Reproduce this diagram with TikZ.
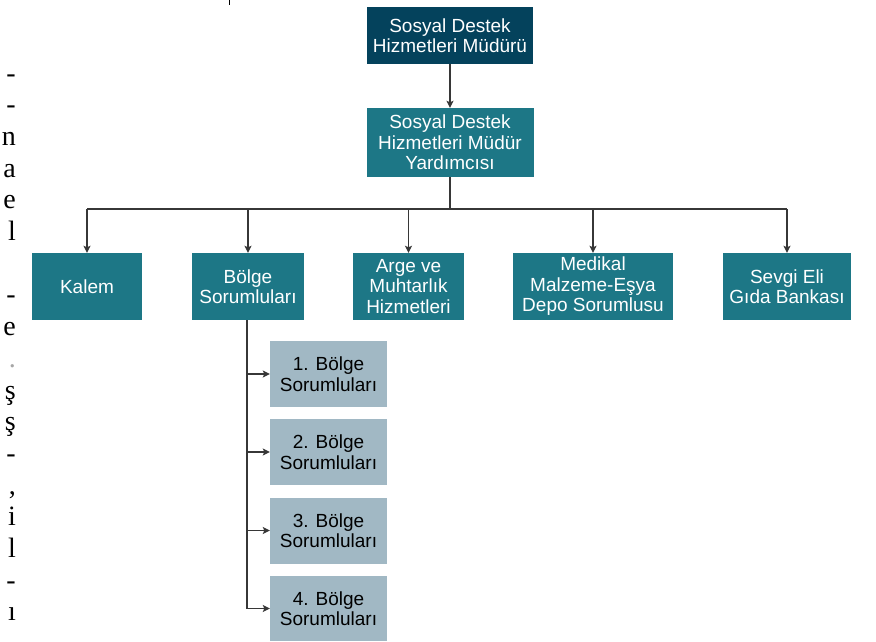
\documentclass[tikz,border=0pt]{standalone}
\usepackage{fontspec}
\setmainfont{Liberation Sans}
\newfontfamily\margfont{Liberation Serif}
\usetikzlibrary{arrows.meta}
\definecolor{navyc}{RGB}{4,66,92}
\definecolor{tealc}{RGB}{29,119,134}
\definecolor{subc}{RGB}{161,184,196}
\definecolor{linec}{RGB}{55,55,55}
\begin{document}
\begin{tikzpicture}[x=1pt,y=-1pt,
  box/.style={rectangle, inner sep=0pt, align=center,
    font=\fontsize{19}{20.5}\selectfont, text=white},
  topbox/.style={box, fill=navyc},
  mainbox/.style={box, fill=tealc},
  subbox/.style={box, fill=subc, text=black},
  wire/.style={draw=linec, line width=1.2pt},
  conn/.style={wire, -{Stealth[length=7pt,width=7pt,inset=1.5pt]}},
  marg/.style={inner sep=0pt, anchor=base east, text=black,
    font=\margfont\fontsize{28}{30}\selectfont}
]
\useasboundingbox (0,0) rectangle (876,641);

% stray marks of the cropped page
\fill[black] (228.5,0) rectangle (230.2,5);
\node[marg] (m0) at (16,82) {-};
\node[marg] (m1) at (16,113.7) {-};
\node[marg] (m2) at (16,145.4) {n};
\node[marg] (m3) at (16,177.1) {a};
\node[marg] (m4) at (16,208.8) {e};
\node[marg] (m5) at (16,240.5) {l};
\node[marg] (m7) at (16,303.9) {-};
\node[marg] (m8) at (16,335.6) {e};
\node[marg, text=black!35] (m9) at (16,367.3) {.};
\node[marg] (m10) at (16,399) {ş};
\node[marg] (m11) at (16,430.7) {ş};
\node[marg] (m12) at (16,462.4) {-};
\node[marg] (m13) at (16,494.1) {,};
\node[marg] (m14) at (16,525.8) {i};
\node[marg] (m15) at (16,557.5) {l};
\node[marg] (m16) at (16,589.2) {-};
\node[marg] (m17) at (16,620.9) {ı};

% boxes
\node[topbox, minimum width=166pt, minimum height=57pt] (top) at (450,35.5)
  {Sosyal Destek\\Hizmetleri Müdürü};
\node[mainbox, minimum width=167pt, minimum height=69pt] (yard) at (450,142.5)
  {Sosyal Destek\\Hizmetleri Müdür\\Yardımcısı};

\node[mainbox, minimum width=110pt, minimum height=67pt] (kalem) at (87,286.5) {Kalem};
\node[mainbox, minimum width=112pt, minimum height=67pt] (bolge) at (248,286.5) {Bölge\\Sorumluları};
\node[mainbox, minimum width=111pt, minimum height=67pt] (arge) at (408.5,286.5) {Arge ve\\Muhtarlık\\Hizmetleri};
\node[mainbox, minimum width=160pt, minimum height=67pt] (medikal) at (593,286.5) {Medikal\\Malzeme-Eşya\\Depo Sorumlusu};
\node[mainbox, minimum width=128pt, minimum height=67pt] (sevgi) at (787,286.5) {Sevgi Eli\\Gıda Bankası};

\node[subbox, minimum width=117pt, minimum height=66pt] (s1) at (328.5,374) {1. Bölge\\Sorumluları};
\node[subbox, minimum width=117pt, minimum height=66pt] (s2) at (328.5,452) {2. Bölge\\Sorumluları};
\node[subbox, minimum width=117pt, minimum height=66pt] (s3) at (328.5,530.5) {3. Bölge\\Sorumluları};
\node[subbox, minimum width=117pt, minimum height=65pt] (s4) at (328.5,608.5) {4. Bölge\\Sorumluları};

% connectors
\draw[conn] (top) -- (yard);
\coordinate (bus) at (450,209);
\draw[wire] (yard.south) -- (bus);
\draw[wire] (kalem.north |- bus) -- (sevgi.north |- bus);
\foreach \n in {kalem,bolge,arge,medikal,sevgi}
  \draw[conn] (\n.north |- bus) -- (\n.north);

\coordinate (spine) at (247,320);
\draw[wire] (spine) -- (spine |- s4.west);
\foreach \n in {s1,s2,s3,s4}
  \draw[conn] (spine |- \n.west) -- (\n.west);
\end{tikzpicture}
\end{document}
